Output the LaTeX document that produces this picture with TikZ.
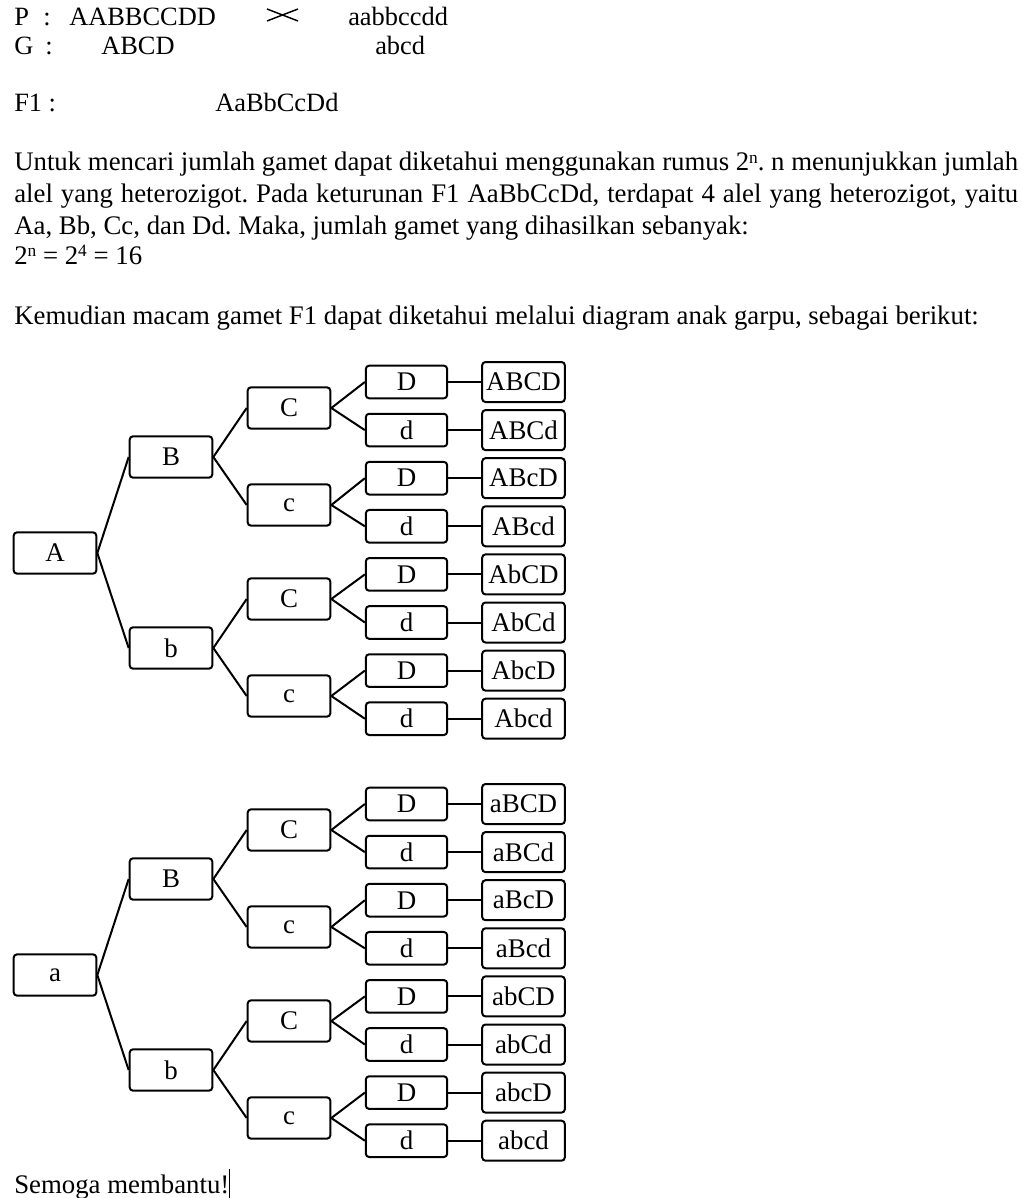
\documentclass[tikz,border=0pt]{standalone}
\usepackage{fontspec}
\setmainfont{Liberation Serif}
\frenchspacing
\newcommand{\supx}[1]{\raisebox{0.28em}{\fontsize{13}{13}\selectfont #1}}
\begin{document}
\begin{tikzpicture}[x=0.75pt,y=-0.75pt,
  txt/.style={anchor=base west,inner sep=0pt,font=\fontsize{19.8}{24}\selectfont},
  ptxt/.style={txt,font=\fontsize{20.1}{24}\selectfont},
  box/.style={draw,line width=1.5pt,rounded corners=2.5pt,inner sep=0pt,font=\fontsize{20.2}{24}\selectfont},
  lvl/.style={box,minimum width=62pt,minimum height=31pt},
  dbox/.style={box,minimum width=61pt,minimum height=24.5pt},
  rbox/.style={box,minimum width=62pt,minimum height=30pt},
  conn/.style={line width=1.5pt}]
\useasboundingbox (0,0) rectangle (1024,1198);
% header
\node[txt] (p1) at (14,26) {P};
\node[txt] (p2) at (43,26) {:};
\node[txt] (p3) at (69,26) {AABBCCDD};
\node[txt] (p4) at (348,26) {aabbccdd};
\draw[line width=1.1pt] (267,9) -- (298,21);
\draw[line width=1.1pt] (267,21) -- (298,9);
\node[txt] (g1) at (14,55) {G};
\node[txt] (g2) at (45,55) {:};
\node[txt] (g3) at (101,55) {ABCD};
\node[txt] (g4) at (375,55) {abcd};
\node[txt] (f1) at (14,112) {F1 :};
\node[txt] (f2) at (215,112) {AaBbCcDd};
% paragraph
\node[ptxt] (l1) at (14,171) {\makebox[753pt][s]{Untuk mencari jumlah gamet dapat diketahui menggunakan rumus 2\supx{n}. n menunjukkan jumlah}};
\node[ptxt] (l2) at (14,203) {\makebox[753pt][s]{alel yang heterozigot. Pada keturunan F1 AaBbCcDd, terdapat 4 alel yang heterozigot, yaitu}};
\node[ptxt] (l3) at (14,234) {Aa, Bb, Cc, dan Dd. Maka, jumlah gamet yang dihasilkan sebanyak:};
\node[ptxt] (l4) at (14,264) {2\supx{n} = 2\supx{4} = 16};
\node[ptxt] (l5) at (14,324) {Kemudian macam gamet F1 dapat diketahui melalui diagram anak garpu, sebagai berikut:};
\node[ptxt] (l6) at (14,1193) {Semoga membantu!\rule[-0.25em]{0.7pt}{1.15em}};
% trees
\foreach \t/\off/\labA in {1/0/A,2/422/a}{
  \node[lvl] (A\t) at (55,553+\off) {\labA};
  \foreach \j/\labB in {0/B,1/b}{
    \pgfmathsetmacro\yb{457+191*\j+\off}
    \node[lvl] (B\t\j) at (171,\yb) {\labB};
    \draw[conn] (A\t.east) -- (B\t\j.west);
    \foreach \k/\labC in {0/C,1/c}{
      \pgfmathsetmacro\yc{408+97*\k+191*\j+\off}
      \node[lvl] (C\t\j\k) at (289,\yc) {\labC};
      \draw[conn] (B\t\j.east) -- (C\t\j\k.west);
      \foreach \m/\labD in {0/D,1/d}{
        \pgfmathsetmacro\yd{382+48.1*(4*\j+2*\k+\m)+\off}
        \node[dbox] (D\t\j\k\m) at (406.5,\yd) {\labD};
        \node[rbox] (R\t\j\k\m) at (523.5,\yd) {\labA\labB\labC\labD};
        \draw[conn] (C\t\j\k.east) -- (D\t\j\k\m.west);
        \draw[conn] (D\t\j\k\m.east) -- (R\t\j\k\m.west);
      }
    }
  }
}
\end{tikzpicture}
\end{document}
